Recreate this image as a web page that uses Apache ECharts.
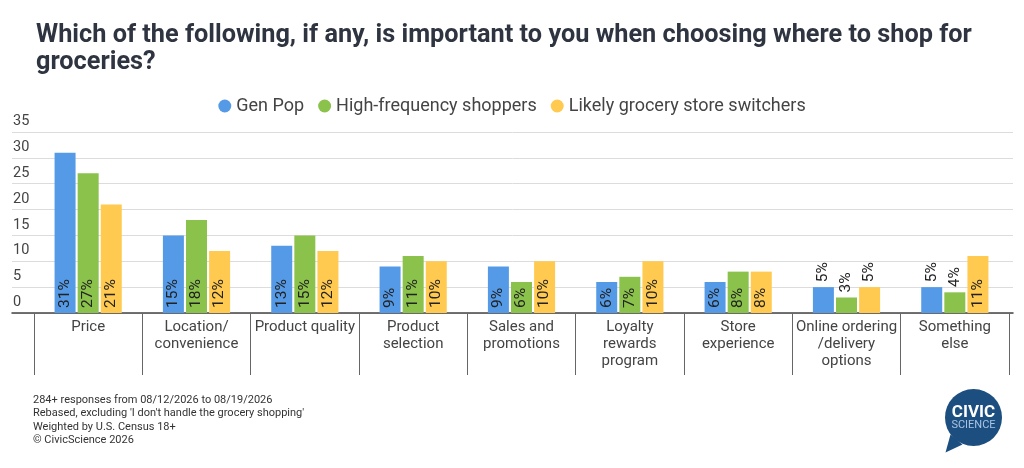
<!DOCTYPE html>
<html>
<head>
<meta charset="utf-8">
<script src="https://cdn.jsdelivr.net/npm/echarts@6/dist/echarts.min.js"></script>
<style>
  html, body { margin: 0; padding: 0; background: #fff; }
  #chart { width: 1024px; height: 468px; }
</style>
</head>
<body>
<div id="chart"></div>
<script>
const categories = [
    'Price', 'Location/\nconvenience', 'Product quality', 'Product\nselection',
    'Sales and\npromotions', 'Loyalty\nrewards\nprogram', 'Store\nexperience',
    'Online ordering\n/delivery\noptions', 'Something\nelse'
];
const genPop = [31, 15, 13, 9, 9, 6, 6, 5, 5];
const highFreq = [27, 18, 15, 11, 6, 7, 8, 3, 4];
const switchers = [21, 12, 12, 10, 10, 10, 8, 5, 11];
const seriesNames = ['Gen Pop', 'High-frequency shoppers', 'Likely grocery store switchers'];
const colors = ['#559ae6', '#8bc24c', '#ffca4f'];
const yTicks = [0, 35, 5]; // min, max, interval

const font = 'Roboto, "Noto Sans", sans-serif';

// small values get their label above the bar
const toData = (values) => values.map(v => {
    if (v > 5) return v;
    return {
        value: v,
        label: { position: 'top', distance: 5 }
    };
});

const makeSeries = (name, values, i) => ({
    name: name,
    type: 'bar',
    xAxisIndex: 1,
    yAxisIndex: 1,
    barWidth: 21,
    barGap: '10%',
    itemStyle: { color: colors[i] },
    label: {
        show: true,
        position: 'insideBottom',
        distance: 5,
        rotate: 90,
        align: 'left',
        verticalAlign: 'middle',
        formatter: '{c}%',
        fontFamily: font,
        fontSize: 15.5,
        color: '#222'
    },
    data: toData(values)
});

const chart = echarts.init(document.getElementById('chart'));
chart.setOption({
    backgroundColor: '#fff',
    animation: false,
    title: {
        text: 'Which of the following, if any, is important to you when choosing where to shop for\ngroceries?',
        left: 31,
        top: 17,
        textStyle: {
            fontFamily: font,
            fontSize: 25.3,
            fontWeight: 'bold',
            color: '#2f3441',
            lineHeight: 27
        }
    },
    legend: {
        top: 92,
        left: 'center',
        icon: 'circle',
        itemWidth: 13,
        itemHeight: 13,
        itemGap: 14,
        textStyle: { fontFamily: font, fontSize: 18, color: '#444' },
        data: seriesNames
    },
    grid: [
        { left: 12, right: 11, top: 132, bottom: 155 },
        { left: 34, right: 15, top: 132, bottom: 155 }
    ],
    xAxis: [
        {
            gridIndex: 0,
            type: 'value',
            min: 0,
            max: 1,
            axisLine: { show: true, onZero: false, lineStyle: { color: '#444', width: 1.5 } },
            axisTick: { show: false },
            axisLabel: { show: false },
            splitLine: { show: false }
        },
        {
            gridIndex: 1,
            type: 'category',
            data: categories,
            axisLine: { show: false },
            axisTick: {
                show: true,
                interval: 0,
                length: 62,
                lineStyle: { color: '#666', width: 1 }
            },
            axisLabel: {
                interval: 0,
                margin: 6,
                fontFamily: font,
                fontSize: 15,
                lineHeight: 17,
                color: '#444',
                verticalAlign: 'top'
            }
        }
    ],
    yAxis: [
        {
            gridIndex: 0,
            type: 'value',
            min: yTicks[0],
            max: yTicks[1],
            interval: yTicks[2],
            axisLine: { show: false },
            axisTick: { show: false },
            axisLabel: {
                inside: true,
                margin: 1,
                align: 'left',
                verticalAlign: 'bottom',
                padding: [0, 0, 3, 0],
                fontFamily: font,
                fontSize: 14.5,
                color: '#444'
            },
            splitLine: { lineStyle: { color: '#dcdcdc', width: 1 } }
        },
        {
            gridIndex: 1,
            type: 'value',
            min: yTicks[0],
            max: yTicks[1],
            interval: yTicks[2],
            show: false
        }
    ],
    series: [
        makeSeries(seriesNames[0], genPop, 0),
        makeSeries(seriesNames[1], highFreq, 1),
        makeSeries(seriesNames[2], switchers, 2)
    ],
    graphic: [
        {
            type: 'text',
            left: 33,
            top: 393,
            style: {
                text: "284+ responses from 08/12/2026 to 08/19/2026\nRebased, excluding 'I don't handle the grocery shopping'\nWeighted by U.S. Census 18+\n© CivicScience 2026",
                font: '11px ' + font,
                lineHeight: 13.5,
                fill: '#333'
            }
        },
        {
            type: 'group',
            left: 945,
            top: 389,
            children: [
                {
                    type: 'polygon',
                    shape: { points: [[6, 46], [1, 64], [18, 56]] },
                    style: { fill: '#1c4f80' }
                },
                {
                    type: 'circle',
                    shape: { cx: 29, cy: 29, r: 28.5 },
                    style: { fill: '#1c4f80' }
                },
                {
                    type: 'text',
                    x: 29,
                    y: 24,
                    style: {
                        text: 'CIVIC',
                        font: 'bold 17px ' + font,
                        fill: '#fff',
                        align: 'center',
                        verticalAlign: 'middle'
                    }
                },
                {
                    type: 'text',
                    x: 29,
                    y: 37,
                    style: {
                        text: 'SCIENCE',
                        font: '11px ' + font,
                        fill: '#a9c4e4',
                        align: 'center',
                        verticalAlign: 'middle'
                    }
                }
            ]
        }
    ]
});
</script>
</body>
</html>
